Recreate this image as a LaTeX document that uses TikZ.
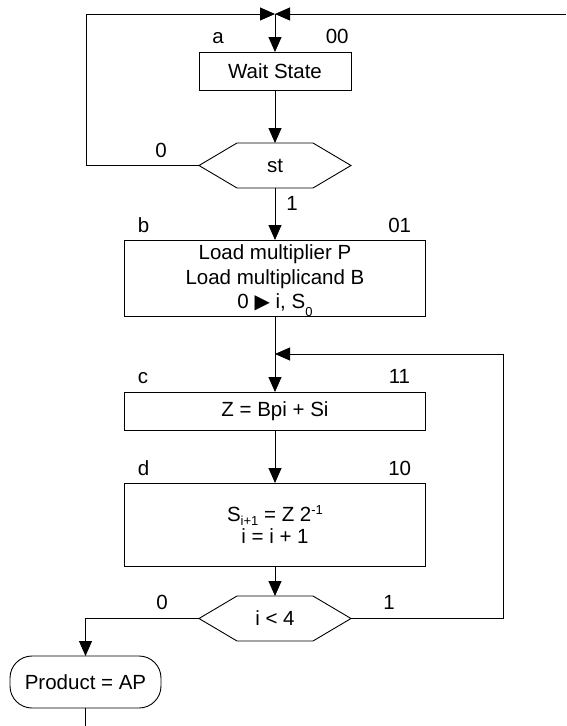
\documentclass[tikz,border=0pt]{standalone}
\usepackage{fontspec}
\setmainfont{Liberation Sans}
\newfontfamily\symfont{DejaVu Sans}
\usetikzlibrary{positioning,arrows.meta,calc}
\newcommand{\lowidx}[2][4pt]{\raisebox{-#1}[0pt][0pt]{\fontsize{13}{13}\selectfont #2}}
\newcommand{\upidx}[1]{\raisebox{7pt}{\fontsize{13}{13}\selectfont #1}}
\newcommand{\into}{{\symfont\fontsize{20}{20}\selectfont ▶}}
\tikzset{
  state/.style={draw,rectangle,outer sep=0pt,inner sep=2pt,align=center,
    minimum height=38pt},
  cond/.style={rectangle,minimum width=152pt,minimum height=45pt,
    outer sep=0pt,inner sep=0pt},
  term/.style={draw,rounded corners=22pt,minimum width=151pt,minimum height=52pt,
    outer sep=0pt},
  tag/.style={inner sep=0pt},
  flow/.style={-{Triangle[length=15pt,width=13pt]}},
}

\begin{document}
\begin{tikzpicture}[x=1pt,y=1pt,line width=0.9pt,font=\fontsize{20.5}{24.5}\selectfont]
  \useasboundingbox (0,0) rectangle (566,-726);

  \node[state,minimum width=152pt] (wait) at (275,-71) {Wait State};
  \node[cond,below=53pt of wait] (st) {st};
  \node[state,minimum width=301pt,minimum height=76pt,below=52pt of st] (load)
    {Load multiplier P\\Load multiplicand B\\0 \into{} i, S\lowidx[8pt]{0}};
  \node[state,minimum width=301pt,below=76pt of load] (add) {Z = Bpi + Si};
  \node[state,minimum width=301pt,minimum height=83pt,below=53pt of add] (shift)
    {S\lowidx{i+1} = Z 2\upidx{-1}\\[-2pt]i = i + 1};
  \node[cond,below=30pt of shift] (cnt) {i < 4};
  \node[term] (prod) at (85.5,-682) {Product = AP};

  % decision outlines
  \foreach \h in {st,cnt}
    \draw (\h.west) -- ([xshift=38pt]\h.north west) -- ([xshift=-38pt]\h.north east)
      -- (\h.east) -- ([xshift=-38pt]\h.south east) -- ([xshift=38pt]\h.south west) -- cycle;

  % state names and codes
  \node[tag,anchor=base west] (na) at ([shift={(13pt,9pt)}]wait.north west) {a};
  \node[tag,anchor=base east] (ca) at ([shift={(-2pt,9pt)}]wait.north east) {00};
  \node[tag,anchor=base west] (nb) at ([shift={(13pt,8pt)}]load.north west) {b};
  \node[tag,anchor=base east] (cb) at ([shift={(-14pt,8pt)}]load.north east) {01};
  \node[tag,anchor=base west] (nc) at ([shift={(13pt,9pt)}]add.north west) {c};
  \node[tag,anchor=base east] (cc) at ([shift={(-15pt,9pt)}]add.north east) {11};
  \node[tag,anchor=base west] (nd) at ([shift={(13pt,8pt)}]shift.north west) {d};
  \node[tag,anchor=base east] (cd) at ([shift={(-14pt,8pt)}]shift.north east) {10};

  % branch values
  \node[tag,anchor=base] (st0) at ([shift={(-38pt,8.5pt)}]st.west) {0};
  \node[tag,anchor=base] (st1) at ([shift={(17pt,-22pt)}]st.south) {1};
  \node[tag,anchor=base] (cnt0) at ([shift={(-37pt,9pt)}]cnt.west) {0};
  \node[tag,anchor=base] (cnt1) at ([shift={(38pt,9pt)}]cnt.east) {1};

  \coordinate (merge) at ([yshift=38pt]wait.north);
  \coordinate (feed) at (566,-14);
  \coordinate (back) at ($(load.south)!0.5!(add.north)$);
  \coordinate (done) at (prod.south |- 0,-726);

  \draw[flow] (st.west) -- ++(-113pt,0) |- (merge);
  \draw[flow] (feed) -- (merge);
  \draw[flow] (merge) -- (wait);
  \draw[flow] (wait) -- (st);
  \draw[flow] (st) -- (load);
  \draw[flow] (load) -- (add);
  \draw[flow] (add) -- (shift);
  \draw[flow] (shift) -- (cnt);
  \draw[flow] (cnt.east) -- ++(152pt,0) |- (back);
  \draw[flow] (cnt.west) -| (prod.north);
  \draw (prod.south) -- (done);
\end{tikzpicture}
\end{document}
